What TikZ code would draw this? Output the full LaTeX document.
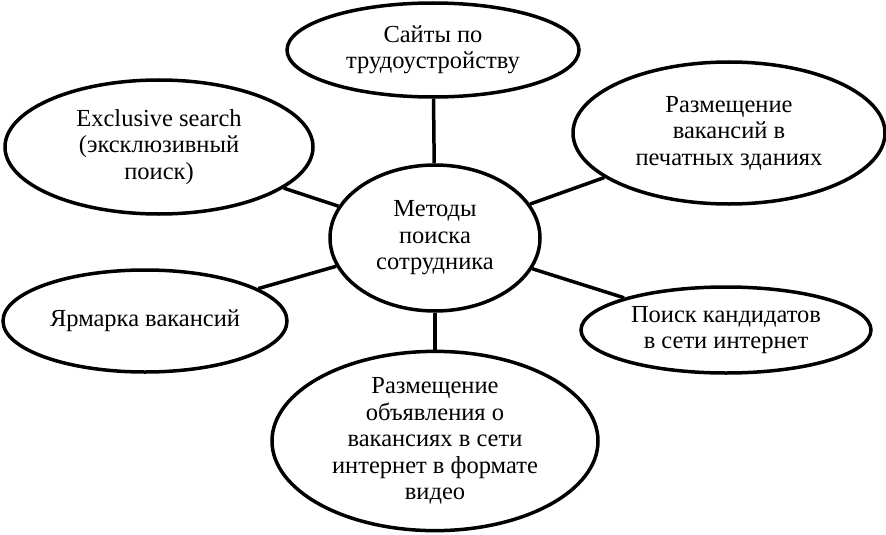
\documentclass[tikz,border=0pt]{standalone}
\usepackage{fontspec}
\setmainfont{Liberation Serif}
\usepackage{tikz}
\usetikzlibrary{shapes.geometric}

\begin{document}
\begin{tikzpicture}[x=1pt, y=-1pt,
    method/.style={draw, ellipse, line width=3.5pt, inner sep=0pt, align=center,
      font=\fontsize{24.5}{26.5}\selectfont}]
  \useasboundingbox (0,0) rectangle (886,535);

  % central node
  \node[method, minimum width=210pt, minimum height=146pt] (center) at (435,238) {Методы\\ поиска\\ сотрудника};

  % methods around it
  \node[method, minimum width=292pt, minimum height=94pt] (sites) at (433,50) {Сайты по\\ трудоустройству};
  \node[method, minimum width=308pt, minimum height=134pt] (exclusive) at (159,147) {Exclusive search\\ (эксклюзивный\\ поиск)};
  \node[method, minimum width=312pt, minimum height=142pt] (print) at (729,133) {Размещение\\ вакансий в\\ печатных зданиях};
  \node[method, minimum width=284pt, minimum height=102pt] (fair) at (145,321) {Ярмарка вакансий};
  \node[method, minimum width=290pt, minimum height=86pt] (internet) at (726,330) {Поиск кандидатов\\ в сети интернет};
  \node[method, minimum width=326pt, minimum height=148pt] (video) at (435,441) {Размещение\\ объявления о\\ вакансиях в сети\\ интернет в формате\\ видео};

  % connectors
  \foreach \n in {sites, exclusive, print, fair, internet, video}
    \draw[line width=3.5pt] (center) -- (\n);
\end{tikzpicture}
\end{document}
